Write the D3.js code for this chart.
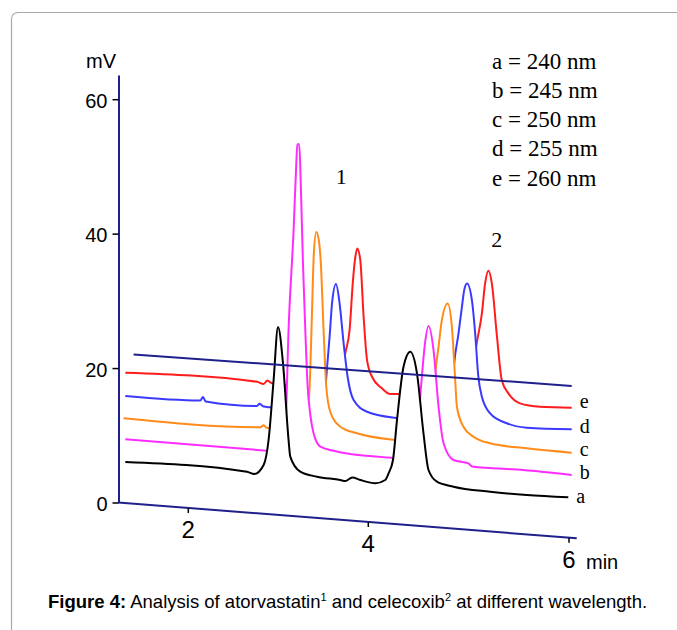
<!DOCTYPE html>
<html>
<head>
<meta charset="utf-8">
<script src="https://cdn.jsdelivr.net/npm/d3@7"></script>
<style>
  html, body { margin: 0; padding: 0; background: #fff; }
  svg { display: block; }
</style>
</head>
<body>
<script>
// Wavelength channels, front (a) to back (e)
const channelKeys = ["a", "b", "c", "d", "e"];
const wavelengths = [240, 245, 250, 255, 260];
const xTickValues = [2, 4, 6];
const yTickValues = [0, 20, 40, 60];

// Chromatogram points: [retention time (min), signal (mV)]
const traceA = [[1.300,6.10],[2.652,6.07],[2.733,5.82],[2.837,7.26],[2.892,11.04],[2.948,20.02],[2.997,27.95],[3.052,22.65],[3.114,11.27],[3.133,8.81],[3.244,6.69],[3.430,6.14],[3.689,5.92],[3.744,5.83],[3.822,6.43],[3.911,6.15],[4.070,5.84],[4.169,6.44],[4.202,7.48],[4.246,9.51],[4.286,15.50],[4.351,23.50],[4.418,25.81],[4.485,22.68],[4.550,13.83],[4.600,8.43],[4.684,6.79],[4.849,6.24],[5.214,5.92],[5.579,5.86],[5.993,6.00]];
const traceB = [[1.300,9.48],[2.874,9.43],[3.056,9.42],[3.083,14.22],[3.114,27.63],[3.170,42.55],[3.200,52.55],[3.211,55.38],[3.233,55.41],[3.250,49.33],[3.274,37.71],[3.300,27.82],[3.326,19.42],[3.356,15.24],[3.392,12.55],[3.467,10.64],[3.614,10.20],[3.800,9.90],[4.070,9.82],[4.259,9.82],[4.438,9.80],[4.488,13.21],[4.523,20.24],[4.563,26.98],[4.600,29.84],[4.650,26.33],[4.700,17.96],[4.750,12.58],[4.849,10.21],[4.998,9.89],[5.035,9.46],[5.545,9.53],[6.027,9.35]];
const traceC = [[1.281,12.58],[2.800,12.83],[2.837,13.18],[2.872,12.83],[3.267,12.84],[3.317,15.20],[3.348,19.44],[3.372,29.38],[3.394,39.07],[3.422,42.52],[3.450,41.36],[3.472,38.11],[3.503,28.03],[3.533,19.63],[3.578,15.92],[3.689,13.85],[3.874,13.06],[4.269,12.51],[4.587,12.58],[4.637,17.40],[4.667,22.89],[4.700,26.88],[4.733,30.89],[4.791,33.44],[4.833,30.01],[4.866,22.12],[4.883,18.17],[4.948,15.28],[5.048,13.90],[5.214,13.12],[5.579,12.80],[6.027,12.67]];
const traceD = [[1.300,15.92],[2.133,16.12],[2.163,16.67],[2.194,16.03],[2.763,15.96],[2.792,16.32],[2.837,15.96],[2.911,15.92],[3.489,15.90],[3.517,18.38],[3.541,22.38],[3.570,27.10],[3.597,32.10],[3.641,35.02],[3.681,32.19],[3.726,26.29],[3.770,21.37],[3.837,17.97],[3.986,16.39],[4.302,15.77],[4.796,15.80],[4.831,19.85],[4.856,24.60],[4.899,29.11],[4.933,33.10],[4.956,35.61],[4.984,36.61],[5.033,34.14],[5.065,29.30],[5.095,23.13],[5.132,19.95],[5.214,17.58],[5.380,16.29],[5.579,15.86],[6.027,16.15]];
const traceE = [[1.300,19.38],[2.763,19.57],[2.837,19.31],[2.878,19.87],[2.930,19.51],[3.667,19.35],[3.711,22.00],[3.744,24.82],[3.792,28.33],[3.830,35.81],[3.856,39.30],[3.878,40.57],[3.911,38.87],[3.948,30.47],[3.986,24.07],[4.037,21.65],[4.136,20.04],[4.219,19.29],[4.351,19.44],[4.975,19.43],[5.035,23.51],[5.080,27.83],[5.132,32.35],[5.164,36.85],[5.197,38.76],[5.231,36.93],[5.281,29.30],[5.330,22.67],[5.396,20.76],[5.512,19.41],[5.711,19.14],[6.027,19.36]];

// Rear reference line of the waterfall
const backLine = [[1.392,22.2],[6.027,22.6]];
// Peak numbers: [label, time, mV]
const peakLabels = [["1",3.700,50.0],["2",5.281,42.45]];
// Time-axis extent
const timeExtent = [1.219, 6.077];

const traces = [traceA, traceB, traceC, traceD, traceE];
const colors = ["#000000", "#ff2cff", "#ff8c1a", "#3a3aff", "#ff1c1c"];
const navy = "#20208c";
// Vertical nudge of each end label relative to its trace end
const labelDy = [6, 4, 3.3, 3.4, 0.6];

const W = 677, H = 630;
const svg = d3.select("body").append("svg").attr("width", W).attr("height", H);

// Frame
svg.append("path")
  .attr("d", "M11.5,630V19.5Q11.5,12.5 18.5,12.5H677")
  .attr("fill", "none").attr("stroke", "#a8a8a8").attr("stroke-width", 1.2);

const x = d3.scaleLinear().domain(xTickValues).range([188.3, 368.3, 569]);
const y = d3.scaleLinear().domain([0, 63.6]).range([502.5, 75]);
const originX = 118.5, shear = 0.078;

// Oblique projection: the time axis slopes down to the right
const px = d => x(d[0]);
const py = d => y(d[1]) + shear * (x(d[0]) - originX);
const pBase = d => y(0) + shear * (x(d[0]) - originX);

const area = d3.area().x(px).y0(pBase).y1(py).curve(d3.curveMonotoneX);
const line = d3.line().x(px).y(py).curve(d3.curveMonotoneX);

const plot = svg.append("g");
// Draw back to front; white fill hides the hidden parts of rear traces
for (let i = traces.length - 1; i >= 0; i--) {
  const g = plot.append("g");
  g.append("path").datum(traces[i]).attr("d", area).attr("fill", "#fff");
  g.append("path").datum(traces[i]).attr("d", line)
    .attr("fill", "none").attr("stroke", colors[i]).attr("stroke-width", 2)
    .attr("stroke-linejoin", "round");
}

// Rear reference line
svg.append("path").datum(backLine)
  .attr("d", d3.line().x(px).y(py))
  .attr("fill", "none").attr("stroke", navy).attr("stroke-width", 2);

// Curve labels at trace ends
traces.forEach((tr, i) => {
  const last = tr[tr.length - 1];
  svg.append("text")
    .attr("x", px(last) + 8).attr("y", py(last) + labelDy[i])
    .attr("font-family", "'Liberation Serif', 'Times New Roman', serif")
    .attr("font-size", 20).attr("fill", "#000")
    .text(channelKeys[i]);
});

// Time axis (oblique)
const axisPts = timeExtent.map(t => [t, 0]);
svg.append("path").datum(axisPts)
  .attr("d", d3.line().x(px).y(py))
  .attr("fill", "none").attr("stroke", navy).attr("stroke-width", 2);
const xt = svg.append("g");
xTickValues.forEach(t => {
  const X = x(t), Y = pBase([t]);
  xt.append("line").attr("x1", X).attr("x2", X).attr("y1", Y).attr("y2", Y + 5)
    .attr("stroke", "#000").attr("stroke-width", 1.5);
  xt.append("text").attr("x", X).attr("y", Y + 30)
    .attr("text-anchor", "middle")
    .attr("font-family", "'Liberation Sans', Arial, sans-serif")
    .attr("font-size", 24).attr("fill", "#000").text(t);
});
svg.append("text").attr("x", 586).attr("y", 569)
  .attr("font-family", "'Liberation Sans', Arial, sans-serif")
  .attr("font-size", 20).attr("fill", "#000").text("min");

// Signal axis
const yAxis = svg.append("g").attr("transform", `translate(${originX},0)`)
  .call(d3.axisLeft(y).tickValues(yTickValues).tickSize(6).tickSizeOuter(0).tickPadding(5));
yAxis.select(".domain").attr("stroke", navy).attr("stroke-width", 2);
yAxis.selectAll(".tick line").attr("stroke", "#000").attr("stroke-width", 1.5);
yAxis.selectAll(".tick text")
  .attr("font-family", "'Liberation Sans', Arial, sans-serif")
  .attr("font-size", 20).attr("fill", "#000").attr("dy", "0.4em");
svg.append("text").attr("x", 86).attr("y", 68)
  .attr("font-family", "'Liberation Sans', Arial, sans-serif")
  .attr("font-size", 20).attr("fill", "#000").text("mV");

// Peak numbers
peakLabels.forEach(([lab, t, v]) => {
  svg.append("text").attr("x", px([t, v])).attr("y", py([t, v]))
    .attr("text-anchor", "middle")
    .attr("font-family", "'Liberation Serif', 'Times New Roman', serif")
    .attr("font-size", 22).attr("fill", "#000").text(lab);
});

// Wavelength key
const key = svg.append("g")
  .attr("font-family", "'Liberation Serif', 'Times New Roman', serif")
  .attr("font-size", 23).attr("fill", "#000");
channelKeys.forEach((k, i) => {
  key.append("text").attr("x", 492).attr("y", 68.5 + i * 29.3)
    .text(`${k} = ${wavelengths[i]} nm`);
});

// Caption
const cap = svg.append("text").attr("x", 48).attr("y", 608)
  .attr("font-family", "'Liberation Sans', Arial, sans-serif")
  .attr("font-size", 18.5).attr("fill", "#000");
cap.append("tspan").attr("font-weight", "bold").text("Figure 4:");
cap.append("tspan").text(" Analysis of atorvastatin");
cap.append("tspan").attr("font-size", 11).attr("dy", -7).text("1");
cap.append("tspan").attr("dy", 7).text(" and celecoxib");
cap.append("tspan").attr("font-size", 11).attr("dy", -7).text("2");
cap.append("tspan").attr("dy", 7).text(" at different wavelength.");
</script>
</body>
</html>
